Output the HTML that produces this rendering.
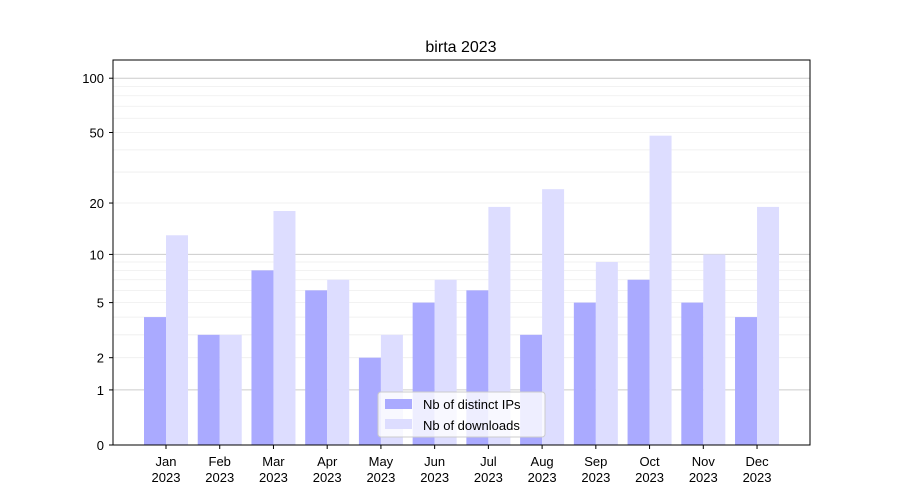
<!DOCTYPE html>
<html><head><meta charset="utf-8"><style>body{margin:0;background:#fff}svg{display:block;font-family:"Liberation Sans","DejaVu Sans",sans-serif}</style></head><body>
<svg width="900" height="500" viewBox="0 0 900 500" xmlns="http://www.w3.org/2000/svg">
<rect width="900" height="500" fill="#fff"/>
<g id="grid"></g>
<g id="bars"></g>
<rect x="113" y="60" width="697" height="385" fill="none" stroke="#000" stroke-width="1"/>
<g id="ticks" font-size="13" fill="#000"></g>
<text x="461" y="52" font-size="16" text-anchor="middle">birta 2023</text>
<g>
<rect x="378" y="392" width="167" height="45" rx="3" fill="#fff" fill-opacity="0.8" stroke="#ccc"/>
<rect x="385" y="399" width="27" height="10" fill="#aaaaff"/>
<text x="423" y="409" font-size="13">Nb of distinct IPs</text>
<rect x="385" y="419" width="27" height="10" fill="#ddddff"/>
<text x="423" y="430" font-size="13">Nb of downloads</text>
</g>
</svg>
<script>
var ns="http://www.w3.org/2000/svg";
function Y(v){return 445-183*Math.log10(1+v);}
function el(p,t,a,txt){var e=document.createElementNS(ns,t);for(var k in a)e.setAttribute(k,a[k]);if(txt!=null)e.textContent=txt;document.getElementById(p).appendChild(e);}
var minors=[2,3,4,5,6,7,8,9,20,30,40,50,60,70,80,90];
minors.forEach(function(v){el("grid","line",{x1:113,x2:810,y1:Y(v),y2:Y(v),stroke:"#eeeeee","stroke-width":0.8});});
[1,10,100].forEach(function(v){el("grid","line",{x1:113,x2:810,y1:Y(v),y2:Y(v),stroke:"#cccccc","stroke-width":1});});
var ips=[4,3,8,6,2,5,6,3,5,7,5,4],dl=[13,3,18,7,3,7,19,24,9,48,10,19];
var m=["Jan","Feb","Mar","Apr","May","Jun","Jul","Aug","Sep","Oct","Nov","Dec"];
for(var i=0;i<12;i++){var c=166+i*53.73;
el("bars","rect",{x:c-22,y:Y(ips[i]),width:22,height:445-Y(ips[i]),fill:"#aaaaff"});
el("bars","rect",{x:c,y:Y(dl[i]),width:22,height:445-Y(dl[i]),fill:"#ddddff"});
el("ticks","line",{x1:c,x2:c,y1:445,y2:449,stroke:"#000"});
el("ticks","text",{x:c,y:466,"text-anchor":"middle"},m[i]);
el("ticks","text",{x:c,y:482,"text-anchor":"middle"},"2023");}
[0,1,2,5,10,20,50,100].forEach(function(v){el("ticks","line",{x1:109,x2:113,y1:Y(v),y2:Y(v),stroke:"#000"});
el("ticks","text",{x:104,y:Y(v)+5,"text-anchor":"end"},String(v));});
</script>
</body></html>
